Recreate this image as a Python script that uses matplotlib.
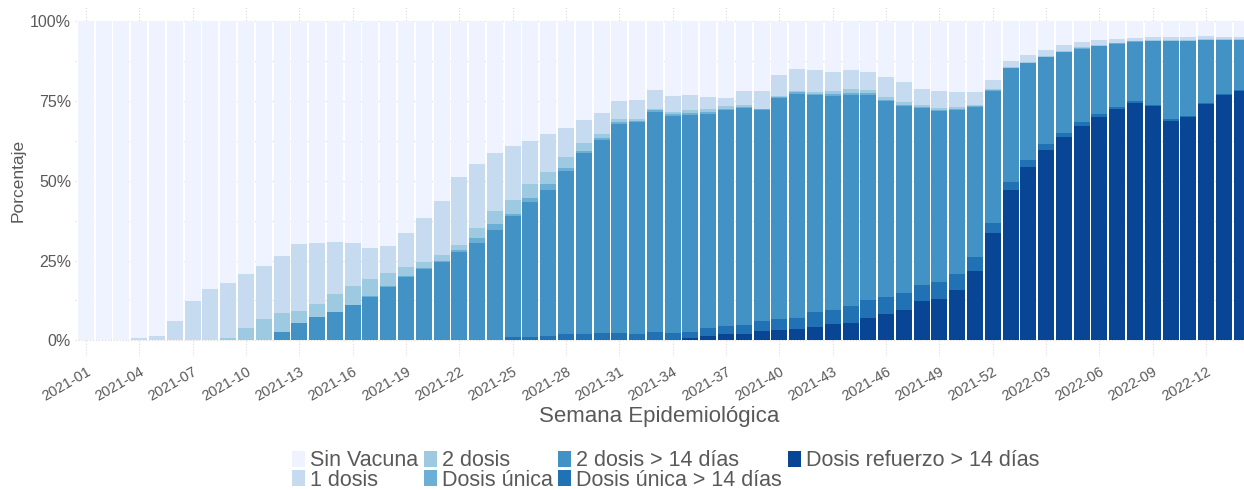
#!/usr/bin/env python3

import numpy as np
import matplotlib
matplotlib.use("Agg")
import matplotlib.pyplot as plt
from matplotlib.ticker import MultipleLocator, FuncFormatter

plt.rcParams['font.family'] = ['Liberation Sans', 'DejaVu Sans']

# Semanas epidemiológicas 2021-01 .. 2022-14
weeks = [f"2021-{w:02d}" for w in range(1, 53)] + [f"2022-{w:02d}" for w in range(1, 15)]

# Porcentajes por categoría, de abajo hacia arriba
refuerzo_14 = [0, 0, 0, 0, 0, 0, 0, 0, 0, 0,
               0, 0, 0, 0, 0, 0, 0, 0, 0, 0,
               0, 0, 0, 0, 0, 0, 0, 0, 0, 0,
               0, 0, 0, 0, 0.7, 1.3, 2.0, 2.0, 2.9, 3.2,
               3.5, 4.2, 5.0, 5.5, 7.0, 8.4, 9.5, 12.3, 13.1, 15.8,
               21.7, 33.6, 47.1, 54.4, 59.7, 63.9, 67.2, 70.1, 72.7, 74.5,
               73.4, 68.9, 69.9, 74.1, 76.9, 78.2]
unica_14 = [0, 0, 0, 0, 0, 0, 0, 0, 0, 0,
            0, 0, 0, 0, 0, 0, 0, 0, 0, 0,
            0, 0, 0, 0, 1.0, 1.0, 1.2, 2.0, 2.0, 2.3,
            2.2, 1.9, 2.6, 2.3, 1.9, 2.7, 2.5, 2.9, 3.1, 3.4,
            3.4, 4.8, 4.4, 5.2, 5.6, 5.3, 5.2, 5.0, 5.2, 4.9,
            4.4, 3.1, 2.6, 2.1, 1.8, 1.2, 1.2, 0.9, 0.6, 0.6,
            0.4, 0.5, 0.5, 0.4, 0.5, 0.3]
dos_dosis_14 = [0, 0, 0, 0, 0, 0, 0, 0, 0, 0,
                0, 2.6, 5.3, 7.3, 8.9, 11.1, 13.6, 16.6, 19.9, 22.4,
                24.6, 27.8, 30.5, 34.7, 38.1, 42.5, 46.0, 51.2, 56.9, 60.6,
                65.7, 66.6, 69.1, 68.2, 68.2, 67.1, 67.7, 68.0, 66.1, 69.5,
                70.5, 67.8, 67.2, 66.2, 64.3, 61.2, 58.8, 55.5, 53.6, 51.6,
                47.2, 41.5, 35.6, 30.5, 27.3, 25.2, 23.1, 21.3, 19.7, 18.6,
                20.0, 24.4, 23.5, 19.6, 16.8, 15.7]
unica = [0, 0, 0, 0, 0, 0, 0, 0, 0, 0,
         0, 0, 0, 0, 0, 0, 0.3, 0.3, 0.3, 0.3,
         0.3, 0.5, 1.7, 1.8, 0.5, 1.1, 1.8, 0.8, 0.4, 0.4,
         0.5, 0.4, 0.4, 0.5, 0.5, 0.5, 0.5, 0.4, 0.3, 0.3,
         0.4, 0.5, 0.6, 0.8, 0.6, 0.5, 0.4, 0.3, 0.3, 0.3,
         0.2, 0.2, 0.1, 0.1, 0.1, 0.1, 0.1, 0.1, 0.1, 0.1,
         0.1, 0.1, 0.1, 0.1, 0.1, 0.1]
dos_dosis = [0, 0, 0, 0, 0, 0, 0, 0, 0.7, 3.9,
             6.7, 5.9, 4.0, 4.1, 5.5, 5.9, 5.2, 4.2, 2.8, 1.9,
             1.7, 1.5, 3.0, 4.0, 4.4, 4.4, 3.8, 3.4, 2.6, 1.4,
             0.9, 0.4, 0.4, 0.5, 0.9, 0.9, 0.8, 0.5, 0.3, 0.2,
             0.3, 0.6, 0.9, 1.0, 1.1, 0.9, 0.7, 0.6, 0.7, 0.5,
             0.2, 0.3, 0.3, 0.3, 0.3, 0.3, 0.3, 0.3, 0.3, 0.2,
             0.3, 0.3, 0.3, 0.3, 0.2, 0.2]
una_dosis = [0, 0, 0, 0.7, 1.4, 6.1, 12.2, 16.1, 17.3, 16.8,
             16.6, 18.0, 21.0, 19.1, 16.3, 13.5, 10.0, 8.5, 10.6, 13.8,
             17.2, 21.4, 20.2, 18.1, 16.8, 13.5, 11.9, 9.2, 7.2, 6.5,
             5.6, 6.0, 5.9, 5.1, 4.7, 3.8, 2.6, 4.5, 5.6, 6.6,
             6.9, 6.8, 6.1, 6.1, 5.5, 6.2, 6.4, 5.2, 5.3, 4.8,
             4.2, 2.9, 1.9, 2.0, 1.8, 1.9, 1.7, 1.4, 1.2, 0.9,
             0.9, 0.9, 0.8, 0.9, 0.6, 0.5]
sin_vacuna = [100, 100, 100, 99.3, 98.6, 93.9, 87.8, 83.9, 82.0, 79.3,
              76.7, 73.5, 69.7, 69.5, 69.3, 69.5, 70.9, 70.4, 66.4, 61.6,
              56.2, 48.8, 44.6, 41.4, 39.2, 37.5, 35.3, 33.4, 30.9, 28.8,
              25.1, 24.7, 21.6, 23.4, 23.1, 23.7, 23.9, 21.7, 21.7, 16.8,
              15.0, 15.3, 15.8, 15.2, 15.9, 17.5, 19.0, 21.1, 21.8, 22.1,
              22.1, 18.4, 12.4, 10.6, 9.0, 7.4, 6.4, 5.9, 5.4, 5.1,
              4.9, 4.9, 4.9, 4.6, 4.9, 5.0]

# Orden de apilado (abajo -> arriba) y colores (Blues, 7 clases)
series = [
    ("Dosis refuerzo > 14 días", refuerzo_14, "#084594"),
    ("Dosis única > 14 días", unica_14, "#2171b5"),
    ("2 dosis > 14 días", dos_dosis_14, "#4292c6"),
    ("Dosis única", unica, "#6baed6"),
    ("2 dosis", dos_dosis, "#9ecae1"),
    ("1 dosis", una_dosis, "#c6dbef"),
    ("Sin Vacuna", sin_vacuna, "#eff3ff"),
]

TEXT = "#595959"
GRID = "#d9d9d9"

fig = plt.figure(figsize=(12.44, 4.9), dpi=100)
ax = fig.add_axes([0.0605, 0.273, 0.9395, 0.7157])

x = np.arange(len(weeks))
bottom = np.zeros(len(weeks))
handles = {}
for name, vals, color in series:
    vals = np.array(vals, dtype=float)
    bars = ax.bar(x, vals, bottom=bottom, width=0.9, color=color,
                  linewidth=0, zorder=2)
    handles[name] = bars
    bottom += vals

ax.set_xlim(-0.6, 65.13)
ax.set_ylim(-5, 105)

# ticks
ax.yaxis.set_major_locator(MultipleLocator(25))
ax.yaxis.set_minor_locator(MultipleLocator(12.5))
ax.yaxis.set_major_formatter(FuncFormatter(lambda v, p: f"{v:.0f}%"))
tick_pos = x[::3]
ax.set_xticks(tick_pos)
ax.set_xticklabels([weeks[i] for i in tick_pos], rotation=30, ha='right',
                   rotation_mode='anchor')
ax.tick_params(axis='both', which='both', length=0, colors=TEXT)
ax.tick_params(axis='y', labelsize=11.5, pad=3)
ax.tick_params(axis='x', labelsize=10.5, pad=6)

ax.grid(True, which='major', axis='both', color=GRID, linestyle=':', linewidth=0.8, zorder=0)
ax.grid(True, which='minor', axis='y', color=GRID, linestyle=':', linewidth=0.8, zorder=0)
ax.set_axisbelow(True)
for s in ax.spines.values():
    s.set_visible(False)

ax.set_ylabel("Porcentaje", fontsize=12.5, color=TEXT, labelpad=3)
ax.set_xlabel("Semana Epidemiológica", fontsize=16, color=TEXT, labelpad=2)

legend_order = ["Sin Vacuna", "1 dosis", "2 dosis", "Dosis única",
                "2 dosis > 14 días", "Dosis única > 14 días", "Dosis refuerzo > 14 días"]
leg = fig.legend([handles[n] for n in legend_order], legend_order,
                 loc='center', bbox_to_anchor=(0.535, 0.040), ncol=4,
                 frameon=False, fontsize=15.5, handlelength=0.6, handleheight=0.78,
                 handletextpad=0.25, columnspacing=0.25, labelspacing=-0.08,
                 borderaxespad=0, borderpad=0)
for t in leg.get_texts():
    t.set_color(TEXT)

fig.savefig("out.png", dpi=100)
